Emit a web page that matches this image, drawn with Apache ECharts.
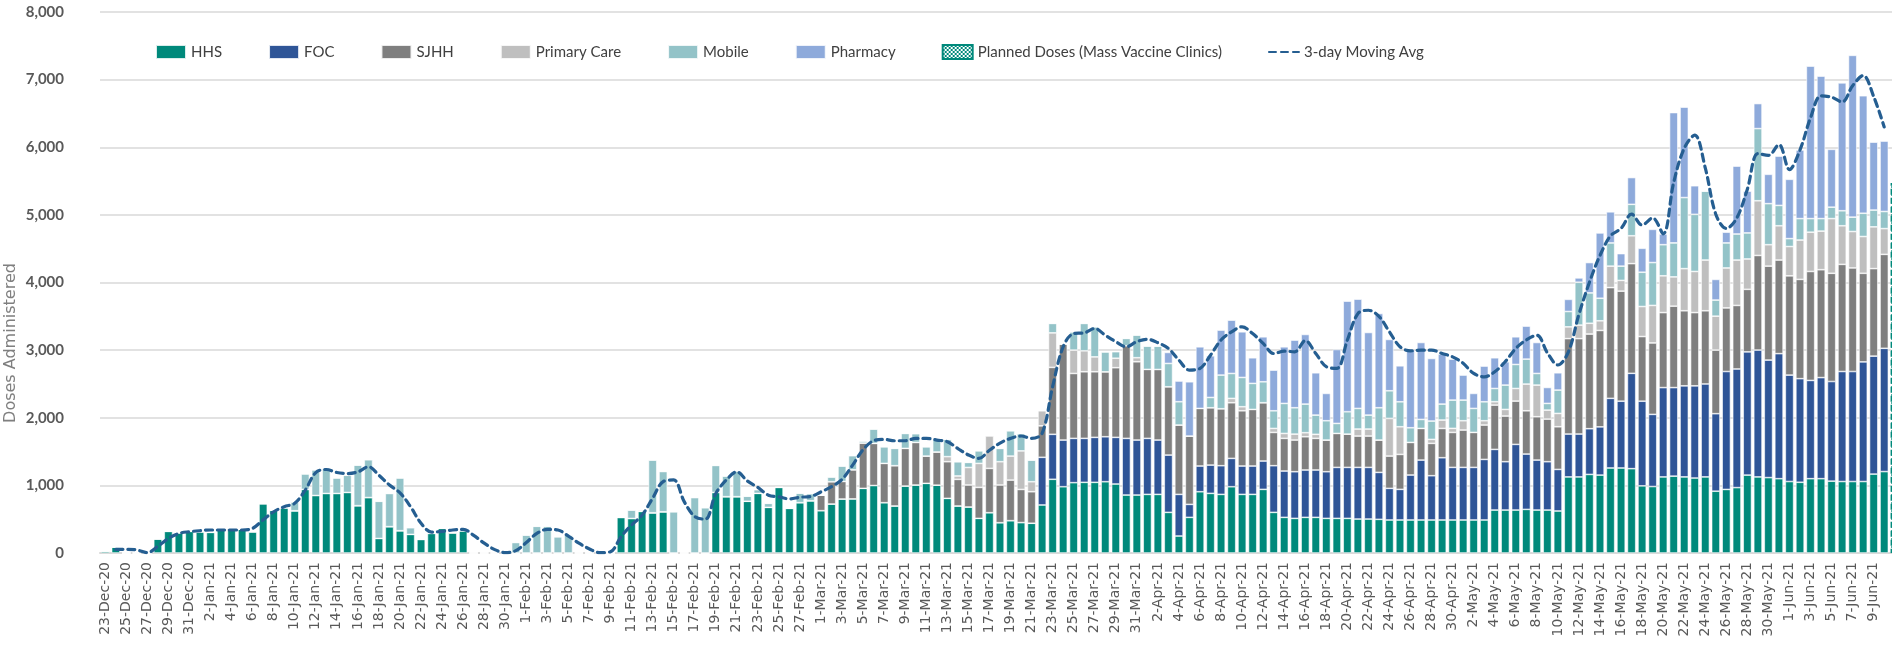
<!DOCTYPE html>
<html>
<head>
<meta charset="utf-8">
<title>Doses Administered</title>
<script src="https://cdn.jsdelivr.net/npm/echarts@6/dist/echarts.min.js"></script>
<style>
html, body { margin: 0; padding: 0; background: #fff; }
#main { width: 1892px; height: 659px; }
</style>
</head>
<body>
<div id="main"></div>
<script>
// daily categories 23-Dec-20 .. 11-Jun-21 (last one only carries the planned bar)
var MONTHS = ['Jan', 'Feb', 'Mar', 'Apr', 'May', 'Jun', 'Jul', 'Aug', 'Sep', 'Oct', 'Nov', 'Dec']
var days = []
for (var d = 0; d < 171; d++) {
	var dt = new Date(Date.UTC(2020, 11, 23) + d * 86400000)
	days.push(dt.getUTCDate() + '-' + MONTHS[dt.getUTCMonth()] + '-' + String(dt.getUTCFullYear() % 100))
}

var yTicks = [0, 1000, 2000, 3000, 4000, 5000, 6000, 7000, 8000]

var hhs = [
	30, 90, 0, 0, 0, 210, 320, 300, 320, 315,
	305, 360, 360, 355, 315, 730, 635, 670, 625, 940,
	850, 880, 880, 895, 700, 820, 215, 390, 330, 275,
	200, 290, 365, 300, 330, 0, 0, 0, 0, 0,
	0, 0, 0, 0, 0, 0, 0, 0, 0, 525,
	510, 615, 595, 610, 0, 0, 0, 0, 895, 833,
	833, 765, 882, 675, 970, 660, 745, 773, 626, 724,
	798, 800, 956, 998, 744, 695, 990, 1005, 1030, 1003,
	808, 695, 680, 512, 596, 448, 478, 450, 440, 710,
	1090, 980, 1040, 1045, 1045, 1054, 1020, 857, 857, 867,
	867, 601, 251, 527, 906, 882, 867, 980, 867, 867,
	941, 601, 527, 512, 527, 527, 512, 512, 512, 502,
	502, 498, 488, 488, 488, 488, 488, 488, 488, 488,
	488, 488, 635, 635, 635, 645, 635, 635, 621, 1125,
	1125, 1162, 1152, 1257, 1257, 1247, 993, 983, 1125, 1136,
	1125, 1109, 1125, 914, 940, 967, 1152, 1125, 1115, 1099,
	1057, 1046, 1099, 1099, 1062, 1057, 1057, 1057, 1167, 1204
]
var foc = [
	0, 0, 0, 0, 0, 0, 0, 0, 0, 0,
	0, 0, 0, 0, 0, 0, 0, 0, 0, 0,
	0, 0, 0, 0, 0, 0, 0, 0, 0, 0,
	0, 0, 0, 0, 0, 0, 0, 0, 0, 0,
	0, 0, 0, 0, 0, 0, 0, 0, 0, 0,
	0, 0, 0, 0, 0, 0, 0, 0, 0, 0,
	0, 0, 0, 0, 0, 0, 0, 0, 0, 0,
	0, 0, 0, 0, 0, 0, 0, 0, 0, 0,
	0, 0, 0, 0, 0, 0, 0, 0, 0, 705,
	665, 690, 655, 650, 665, 665, 690, 838, 813, 828,
	803, 847, 616, 192, 380, 418, 424, 419, 419, 419,
	419, 690, 685, 690, 700, 700, 690, 754, 754, 764,
	764, 694, 468, 453, 665, 886, 655, 921, 778, 778,
	778, 896, 897, 715, 971, 818, 739, 715, 615, 634,
	634, 676, 713, 1030, 988, 1410, 1252, 1067, 1321, 1310,
	1347, 1363, 1374, 1146, 1744, 1754, 1822, 1876, 1738, 1849,
	1574, 1532, 1453, 1495, 1474, 1627, 1627, 1769, 1744, 1823
]
var sjhh = [
	0, 0, 0, 0, 0, 0, 0, 0, 0, 0,
	0, 0, 0, 0, 0, 0, 0, 0, 0, 0,
	0, 0, 0, 0, 0, 0, 0, 0, 0, 0,
	0, 0, 0, 0, 0, 0, 0, 0, 0, 0,
	0, 0, 0, 0, 0, 0, 0, 0, 0, 0,
	0, 0, 0, 0, 0, 0, 0, 0, 0, 0,
	0, 0, 0, 0, 0, 0, 0, 0, 230, 330,
	260, 430, 670, 623, 581, 596, 557, 630, 403, 490,
	542, 394, 325, 458, 655, 557, 600, 490, 466, 465,
	990, 1420, 960, 985, 970, 960, 1030, 1370, 1158, 1020,
	1044, 1010, 1025, 1010, 852, 848, 842, 823, 817, 837,
	862, 492, 483, 468, 492, 468, 468, 502, 492, 463,
	463, 478, 477, 517, 482, 468, 478, 433, 517, 552,
	517, 508, 655, 675, 640, 640, 641, 630, 631, 1411,
	1411, 1400, 1426, 1638, 1627, 1622, 956, 1056, 1109, 1204,
	1110, 1083, 1083, 940, 940, 940, 925, 1399, 1389, 1384,
	1468, 1468, 1611, 1595, 1600, 1584, 1531, 1310, 1294, 1389
]
var primaryCare = [
	0, 0, 0, 0, 0, 0, 0, 0, 0, 0,
	0, 0, 0, 0, 0, 0, 0, 0, 0, 0,
	0, 0, 0, 0, 0, 0, 0, 0, 0, 0,
	0, 0, 0, 0, 0, 0, 0, 0, 0, 0,
	0, 0, 0, 0, 0, 0, 0, 0, 0, 0,
	0, 0, 0, 0, 0, 0, 0, 0, 0, 0,
	0, 0, 0, 0, 0, 0, 0, 0, 0, 0,
	0, 0, 0, 0, 0, 0, 0, 0, 0, 0,
	75, 50, 260, 355, 483, 345, 355, 570, 148, 225,
	510, 0, 345, 310, 220, 0, 140, 0, 60, 0,
	0, 0, 0, 0, 0, 0, 0, 64, 60, 0,
	0, 59, 73, 88, 60, 60, 0, 0, 0, 104,
	104, 0, 557, 409, 0, 0, 59, 124, 60, 138,
	0, 64, 50, 98, 187, 395, 468, 133, 197, 174,
	200, 159, 143, 317, 159, 412, 444, 555, 544, 433,
	623, 608, 750, 502, 591, 671, 449, 809, 317, 507,
	433, 582, 581, 571, 809, 571, 539, 544, 618, 381
]
var mobile = [
	0, 0, 0, 0, 0, 0, 0, 0, 0, 0,
	0, 0, 0, 0, 0, 0, 0, 0, 130, 230,
	380, 370, 230, 255, 600, 560, 550, 490, 780, 100,
	0, 0, 0, 0, 0, 0, 0, 0, 0, 155,
	265, 395, 395, 240, 265, 0, 0, 0, 0, 0,
	125, 20, 780, 595, 610, 0, 820, 670, 400, 305,
	380, 75, 55, 60, 0, 0, 140, 105, 0, 70,
	228, 210, 30, 212, 246, 256, 221, 130, 138, 190,
	255, 211, 75, 187, 0, 197, 375, 255, 320, 0,
	140, 0, 270, 405, 445, 295, 98, 108, 335, 345,
	345, 345, 345, 0, 0, 152, 498, 369, 433, 385,
	310, 261, 444, 390, 423, 284, 286, 148, 331, 305,
	206, 478, 409, 369, 217, 133, 271, 236, 418, 305,
	355, 280, 196, 360, 355, 369, 172, 99, 345, 227,
	634, 449, 333, 343, 211, 465, 507, 634, 460, 502,
	1051, 845, 1019, 238, 370, 385, 385, 1067, 607, 301,
	117, 317, 201, 185, 169, 222, 212, 344, 248, 253
]
var pharmacy = [
	0, 0, 0, 0, 0, 0, 0, 0, 0, 0,
	0, 0, 0, 0, 0, 0, 0, 0, 0, 0,
	0, 0, 0, 0, 0, 0, 0, 0, 0, 0,
	0, 0, 0, 0, 0, 0, 0, 0, 0, 0,
	0, 0, 0, 0, 0, 0, 0, 0, 0, 0,
	0, 0, 0, 0, 0, 0, 0, 0, 0, 0,
	0, 0, 0, 0, 0, 0, 0, 0, 0, 0,
	0, 0, 0, 0, 0, 0, 0, 0, 0, 0,
	0, 0, 0, 0, 0, 0, 0, 0, 0, 0,
	0, 0, 0, 0, 0, 0, 0, 0, 0, 0,
	0, 163, 306, 803, 911, 616, 665, 788, 675, 379,
	665, 601, 837, 1000, 1030, 626, 404, 1094, 1635, 1616,
	1222, 1394, 759, 532, 1147, 1138, 926, 739, 606, 370,
	222, 528, 454, 345, 409, 488, 458, 236, 256, 180,
	64, 449, 966, 460, 185, 396, 354, 491, 158, 1928,
	1337, 423, 0, 306, 159, 1004, 618, 370, 434, 729,
	877, 1014, 2255, 2107, 855, 1891, 2393, 1738, 1004, 1041
]
// planned mass-clinic doses, only the edge of the next day's bar shows
var planned = [['11-Jun-21', 5470]]
var movingAvg = [
	null, 55, 55, 45, 5, 100, 215, 290, 315, 330,
	340, 340, 340, 340, 365, 490, 610, 685, 735, 930,
	1190, 1235, 1190, 1175, 1200, 1275, 1150, 1005, 890, 685,
	440, 310, 320, 340, 350, 260, 145, 50, 5, 35,
	155, 290, 350, 340, 250, 145, 60, 5, 20, 240,
	415, 560, 810, 1055, 1080, 760, 540, 500, 880, 1080,
	1200, 1065, 970, 855, 830, 800, 825, 835, 905, 980,
	1090, 1300, 1530, 1660, 1680, 1660, 1660, 1695, 1695, 1670,
	1645, 1545, 1450, 1400, 1520, 1625, 1695, 1730, 1695, 1770,
	2460, 3050, 3245, 3255, 3320, 3220, 3125, 3050, 3125, 3160,
	3110, 3025, 2850, 2705, 2730, 2925, 3150, 3270, 3345, 3245,
	3100, 2950, 2985, 2975, 3140, 2950, 2755, 2730, 3150, 3540,
	3590, 3500, 3270, 3050, 2990, 3000, 3000, 2950, 2900, 2805,
	2655, 2605, 2680, 2830, 3025, 3150, 3220, 2960, 2780, 2975,
	3530, 4005, 4400, 4690, 4800, 5010, 4850, 4955, 4720, 5480,
	5985, 6180, 5695, 5010, 4800, 4955, 5380, 5905, 5880, 6040,
	5670, 5960, 6435, 6760, 6740, 6670, 6910, 7060, 6750, 6300
]

// small teal checker used as fill for the planned doses
var pat = document.createElement('canvas')
pat.width = 4
pat.height = 4
var pctx = pat.getContext('2d')
pctx.fillStyle = '#ffffff'
pctx.fillRect(0, 0, 4, 4)
pctx.fillStyle = '#00897b'
pctx.fillRect(0, 0, 2, 2)
pctx.fillRect(2, 2, 2, 2)

function barSeries(name, data, color) {
	return {
		name: name,
		type: 'bar',
		stack: 'total',
		barCategoryGap: '21%',
		data: data,
		itemStyle: {
			color: color,
			borderColor: 'rgba(255,255,255,0.85)',
			borderWidth: 0.7
		},
		emphasis: { disabled: true }
	}
}

var myChart = echarts.init(document.getElementById('main'))
myChart.setOption({
	backgroundColor: '#ffffff',
	animation: false,
	textStyle: { fontFamily: 'Lato' },
	legend: {
		left: 150,
		top: 39,
		itemWidth: 30,
		itemHeight: 14,
		itemGap: 46,
		textStyle: { fontFamily: 'Lato', fontSize: 15, color: '#404040' },
		data: [
			{ name: 'HHS', icon: 'rect' },
			{ name: 'FOC', icon: 'rect' },
			{ name: 'SJHH', icon: 'rect' },
			{ name: 'Primary Care', icon: 'rect' },
			{ name: 'Mobile', icon: 'rect' },
			{ name: 'Pharmacy', icon: 'rect' },
			{ name: 'Planned Doses (Mass Vaccine Clinics)', icon: 'rect' },
			{ name: '3-day Moving Avg', itemStyle: { color: 'rgba(0,0,0,0)', borderWidth: 0, opacity: 0 } }
		]
	},
	grid: {
		left: 100,
		width: 1800,
		top: 12,
		bottom: 106,
		containLabel: false,
		outerBoundsMode: 'none'
	},
	graphic: [{
		type: 'text',
		x: 11,
		y: 343,
		rotation: Math.PI / 2,
		style: {
			text: 'Doses Administered',
			fill: '#7f7f7f',
			font: '16px "DejaVu Sans"',
			align: 'center',
			verticalAlign: 'middle'
		}
	}],
	xAxis: {
		type: 'category',
		data: days,
		axisTick: { show: false },
		axisLine: { lineStyle: { color: '#d9d9d9', width: 2 } },
		axisLabel: {
			interval: 1,
			rotate: 90,
			margin: 9,
			color: '#595959',
			fontFamily: 'DejaVu Sans',
			fontSize: 14,
			formatter: function(val, idx) {
				return idx === days.length - 1 ? '' : val
			}
		}
	},
	yAxis: {
		type: 'value',
		min: yTicks[0],
		max: yTicks[yTicks.length - 1],
		interval: 1000,
		axisLine: { show: false },
		axisTick: { show: false },
		splitLine: { lineStyle: { color: '#d9d9d9', width: 1.6 } },
		axisLabel: {
			margin: 36,
			color: '#595959',
			fontWeight: 'bold',
			fontSize: 15,
			fontFamily: 'Lato',
			formatter: function(v) {
				return v.toLocaleString('en-US')
			}
		}
	},
	series: [
		barSeries('HHS', hhs, '#00897b'),
		barSeries('FOC', foc, '#2f5597'),
		barSeries('SJHH', sjhh, '#7f7f7f'),
		barSeries('Primary Care', primaryCare, '#bfbfbf'),
		barSeries('Mobile', mobile, '#93c3c8'),
		barSeries('Pharmacy', pharmacy, '#8eaadb'),
		{
			name: 'Planned Doses (Mass Vaccine Clinics)',
			type: 'bar',
			stack: 'total',
			data: planned,
			itemStyle: {
				color: { image: pat, repeat: 'repeat' },
				borderColor: '#00897b',
				borderType: 'dashed',
				borderWidth: 1.5
			},
			emphasis: { disabled: true }
		},
		{
			name: '3-day Moving Avg',
			type: 'line',
			data: movingAvg,
			symbol: 'none',
			smooth: 0.35,
			z: 5,
			lineStyle: {
				color: '#255e91',
				width: 3.2,
				type: [7, 5],
				cap: 'round'
			},
			itemStyle: { color: '#255e91' }
		}
	]
})
</script>
</body>
</html>
